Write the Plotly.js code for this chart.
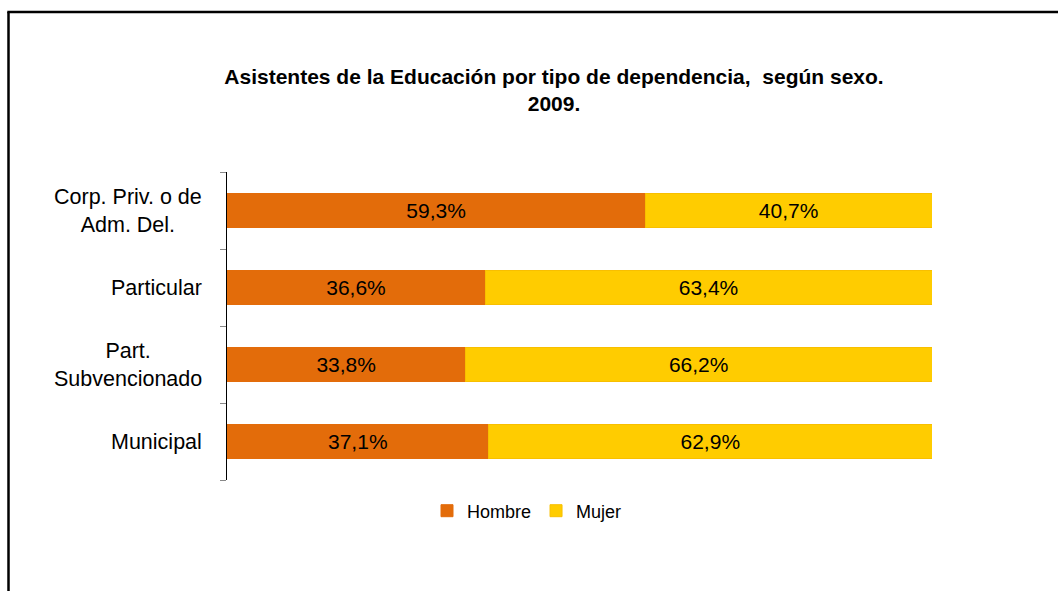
<!DOCTYPE html>
<html>
<head>
<meta charset="utf-8">
<script src="https://cdn.plot.ly/plotly-3.0.1.min.js"></script>
<style>html,body{margin:0;padding:0;background:#fff;}#chart{width:1058px;height:591px;}</style>
</head>
<body>
<div id="chart"></div>
<script>
const categories = ["Municipal", "Part. Subvencionado", "Particular", "Corp. Priv. o de Adm. Del."];
const categoryLabels = ["Municipal", "Part.<br>Subvencionado", "Particular", "Corp. Priv. o de<br>Adm. Del."];
const hombre = [37.1, 33.8, 36.6, 59.3];
const mujer = [62.9, 66.2, 63.4, 40.7];
const seriesNames = ["Hombre", "Mujer"];
const titleText = "Asistentes de la Educación por tipo de dependencia,  según sexo.<br>2009.";

const FONT = 'Liberation Sans, Arial, sans-serif';
const fmt = v => v.toFixed(1).replace('.', ',') + '%';
const W = 1058, H = 591, L = 227, R = 932, T = 172, B = 480;
const px = x => (x - L) / (R - L);
const py = y => (B - y) / (B - T);

const common = {
  type: 'bar', orientation: 'h', y: categories,
  textposition: 'inside', insidetextanchor: 'middle',
  textfont: {family: FONT, size: 21, color: '#000'},
  hoverinfo: 'none', cliponaxis: false
};
const traces = [
  Object.assign({}, common, {name: seriesNames[0], x: hombre, text: hombre.map(fmt),
    marker: {color: '#E36C0A', line: {color: '#E36C0A', width: 1}}}),
  Object.assign({}, common, {name: seriesNames[1], x: mujer, text: mujer.map(fmt),
    marker: {color: '#FFCC00', line: {color: '#F8BF00', width: 1}}})
];

const annotations = categories.map((c, i) => ({
  xref: 'paper', yref: 'y', x: px(204), y: c, xanchor: 'right', yanchor: 'middle',
  text: categoryLabels[i], align: 'center', showarrow: false,
  font: {family: FONT, size: 21.5, color: '#000'}
}));

const layout = {
  width: W, height: H,
  margin: {l: L, r: W - R, t: T, b: H - B, pad: 0},
  paper_bgcolor: '#fff', plot_bgcolor: '#fff',
  barmode: 'stack', bargap: 0.57,
  font: {family: FONT, color: '#000'},
  title: {text: titleText, x: 554 / W, xanchor: 'center', xref: 'container',
    y: 1 - 84 / H, yanchor: 'top', yref: 'container',
    font: {family: FONT, size: 21, color: '#000', weight: 'bold'}},
  xaxis: {range: [0, 100], visible: false, fixedrange: true},
  yaxis: {type: 'category', showline: true, linecolor: '#000', linewidth: 1,
    ticks: 'outside', tickson: 'boundaries', ticklen: 6, tickcolor: '#888', tickwidth: 1,
    showgrid: false, zeroline: false, showticklabels: false},
  showlegend: true,
  legend: {orientation: 'h', x: px(527), xanchor: 'center', y: py(511), yanchor: 'middle',
    font: {family: FONT, size: 18, color: '#000'},
    itemwidth: 30, traceorder: 'normal'},
  annotations: annotations,
  shapes: [
    {type: 'line', xref: 'paper', yref: 'paper', x0: px(8.5), x1: px(8.5), y0: py(600), y1: py(12), line: {color: '#000', width: 2.5}},
    {type: 'line', xref: 'paper', yref: 'paper', x0: px(7.3), x1: px(1070), y0: py(12), y1: py(12), line: {color: '#000', width: 2.5}}
  ]
};
Plotly.newPlot('chart', traces, layout, {displayModeBar: false, staticPlot: true});
</script>
</body>
</html>
